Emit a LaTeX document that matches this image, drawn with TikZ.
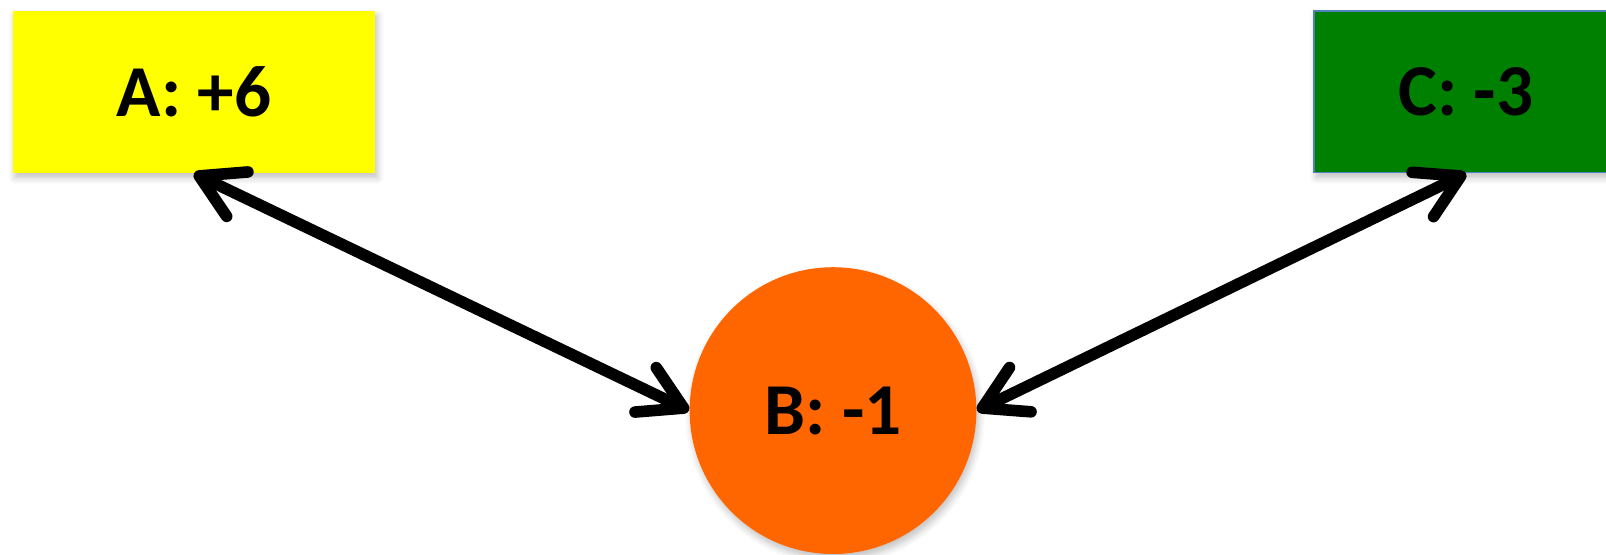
\documentclass[tikz,border=0pt]{standalone}
\usepackage{fontspec}
\setmainfont{Carlito}
\usetikzlibrary{arrows.meta,shadows.blur}
\definecolor{nodeyellow}{RGB}{255,255,0}
\definecolor{nodegreen}{RGB}{0,128,0}
\definecolor{nodeorange}{RGB}{255,102,0}
\definecolor{edgeblue}{RGB}{79,129,189}
\tikzset{
  softshadow/.style={blur shadow={shadow xshift=0.6pt,shadow yshift=-1.4pt,shadow blur steps=6,shadow opacity=25}},
  valuebox/.style={rectangle,minimum height=1.617cm,inner sep=0pt,softshadow,
    font=\fontsize{20.8pt}{24pt}\selectfont\bfseries},
  valuecircle/.style={circle,minimum size=2.866cm,inner sep=0pt,fill=nodeorange,softshadow,
    font=\fontsize{20.8pt}{24pt}\selectfont\bfseries},
  barb/.tip={Straight Barb[length=12pt,width=14pt,line cap=round,line join=round]},
  link/.style={line width=3.3pt,line cap=round,line join=round,barb-barb}
}
\begin{document}
\begin{tikzpicture}[x=0.01cm,y=-0.01cm]
  \useasboundingbox (0,0) rectangle (1606,554);
  \node[valuebox,minimum width=3.62cm,fill=nodeyellow] (A) at (194,91.8) {A: +6};
  \node[valuebox,minimum width=3.04cm,fill=nodegreen,draw=edgeblue,line width=0.45pt] (C) at (1466,91.8) {C: -3};
  \node[valuecircle] (B) at (833,410.6) {B: -1};
  \draw[link] (A.south) -- (B.west);
  \draw[link] (C.south) -- (B.east);
\end{tikzpicture}
\end{document}
